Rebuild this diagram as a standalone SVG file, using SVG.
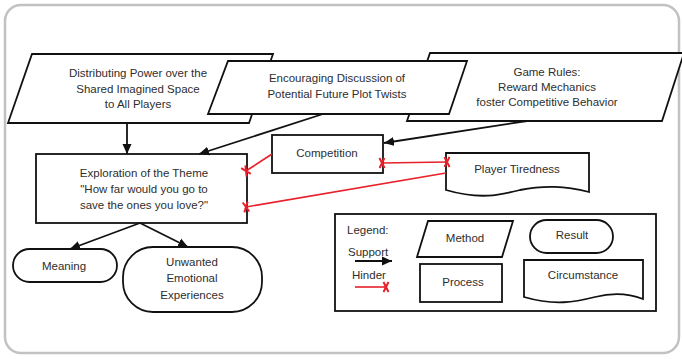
<svg xmlns="http://www.w3.org/2000/svg" width="682" height="359" viewBox="0 0 682 359">
  <style>
    .shape { fill: #ffffff; stroke: #111111; stroke-width: 1.8; stroke-linejoin: miter; }
    .lbl { font-family: "Liberation Sans", Arial, sans-serif; font-size: 11.5px; fill: #2e2e2e; text-anchor: middle; dominant-baseline: central; }
    .lbl-left { text-anchor: start; }
    .support { fill: none; stroke: #111111; stroke-width: 1.8; marker-end: url(#arrow); }
    .hinder { fill: none; stroke: #e8202a; stroke-width: 1.6; marker-end: url(#cross); }
    .hinder2 { marker-start: url(#cross); }
  </style>
  <defs>
    <marker id="arrow" viewBox="0 0 10 10" refX="10" refY="5" markerWidth="10" markerHeight="10" markerUnits="userSpaceOnUse" orient="auto">
      <path d="M0,0.5 L10,5 L0,9.5 Z" fill="#111111"/>
    </marker>
    <marker id="cross" viewBox="-6 -6 12 12" refX="0" refY="0" markerWidth="12" markerHeight="12" markerUnits="userSpaceOnUse" orient="auto">
      <path d="M-2.5,-5 L2.5,5 M-2.5,5 L2.5,-5" stroke="#e8202a" stroke-width="2" fill="none"/>
    </marker>
  </defs>

  <!-- frame -->
  <rect x="5" y="5" width="674" height="348" rx="16" ry="16" fill="#ffffff" stroke="#c2c2c2" stroke-width="2.5"/>

  <!-- method nodes (parallelograms) -->
  <g id="distributing-power">
    <polygon class="shape" points="32,54 273,54 249,123 8,123"/>
    <text class="lbl" x="138" y="73">Distributing Power over the</text>
    <text class="lbl" x="138" y="89">Shared Imagined Space</text>
    <text class="lbl" x="138" y="104">to All Players</text>
  </g>
  <g id="game-rules">
    <polygon class="shape" points="430,53 684,53 662,121 407,121"/>
    <text class="lbl" x="547" y="72">Game Rules:</text>
    <text class="lbl" x="547" y="87">Reward Mechanics</text>
    <text class="lbl" x="547" y="102">foster Competitive Behavior</text>
  </g>
  <g id="encouraging-discussion">
    <polygon class="shape" points="228,61 467,61 449,114 208,114"/>
    <text class="lbl" x="337" y="78">Encouraging Discussion of</text>
    <text class="lbl" x="337" y="94">Potential Future Plot Twists</text>
  </g>

  <!-- process nodes -->
  <g id="exploration">
    <rect class="shape" x="36" y="154" width="211" height="69"/>
    <text class="lbl" x="144" y="173">Exploration of the Theme</text>
    <text class="lbl" x="144" y="189">"How far would you go to</text>
    <text class="lbl" x="144" y="205">save the ones you love?"</text>
  </g>
  <g id="competition">
    <rect class="shape" x="272" y="135" width="111" height="38"/>
    <text class="lbl" x="327" y="153">Competition</text>
  </g>

  <!-- circumstance node -->
  <g id="player-tiredness">
    <path class="shape" d="M446,153 L589,153 L589,192 C565,186 545,185 520,190 C500,195 480,200 446,190 Z"/>
    <text class="lbl" x="517" y="169">Player Tiredness</text>
  </g>

  <!-- result nodes -->
  <g id="meaning">
    <rect class="shape" x="13" y="249" width="104" height="33" rx="16.5" ry="16.5"/>
    <text class="lbl" x="64" y="266">Meaning</text>
  </g>
  <g id="unwanted-experiences">
    <rect class="shape" x="123" y="247" width="139" height="65" rx="30" ry="30"/>
    <text class="lbl" x="192" y="262">Unwanted</text>
    <text class="lbl" x="192" y="278">Emotional</text>
    <text class="lbl" x="192" y="295">Experiences</text>
  </g>

  <!-- connectors -->
  <g id="connectors">
    <line class="support" x1="127" y1="123" x2="127" y2="154"/>
    <line class="support" x1="323" y1="114" x2="199" y2="154"/>
    <line class="support" x1="527" y1="121" x2="384" y2="143"/>
    <line class="support" x1="140" y1="223" x2="70" y2="249"/>
    <line class="support" x1="140" y1="223" x2="188" y2="247"/>
    <line class="hinder" x1="272" y1="154" x2="246" y2="171"/>
    <line class="hinder" x1="446" y1="173" x2="246" y2="207"/>
    <line class="hinder hinder2" x1="382" y1="163" x2="447" y2="162"/>
  </g>

  <!-- legend -->
  <g id="legend">
    <rect class="shape" x="335" y="214" width="321" height="97"/>
    <text class="lbl lbl-left" x="347" y="230">Legend:</text>
    <text class="lbl lbl-left" x="348" y="252">Support</text>
    <line class="support" x1="355" y1="261" x2="392" y2="261"/>
    <text class="lbl lbl-left" x="352" y="275">Hinder</text>
    <line class="hinder" x1="355" y1="287" x2="386" y2="287"/>
    <g id="legend-method">
      <polygon class="shape" points="428,221 513,221 502,257 417,257"/>
      <text class="lbl" x="465" y="238">Method</text>
    </g>
    <g id="legend-result">
      <rect class="shape" x="530" y="220" width="83" height="33" rx="16.5" ry="16.5"/>
      <text class="lbl" x="572" y="235">Result</text>
    </g>
    <g id="legend-process">
      <rect class="shape" x="420" y="264" width="82" height="38"/>
      <text class="lbl" x="463" y="282">Process</text>
    </g>
    <g id="legend-circumstance">
      <path class="shape" d="M524,260 L643,260 L643,299 C630,294 615,292 595,297 C575,302 555,306 524,297 Z"/>
      <text class="lbl" x="583" y="275">Circumstance</text>
    </g>
  </g>
</svg>
